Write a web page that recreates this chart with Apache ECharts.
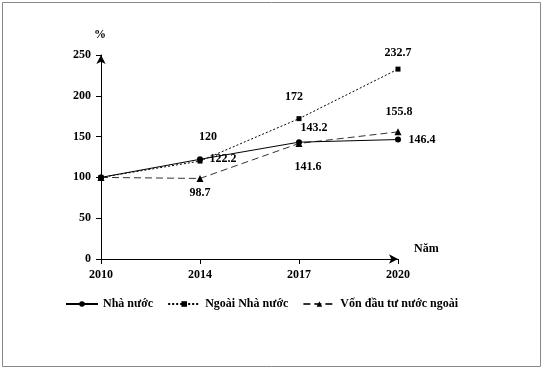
<!DOCTYPE html>
<html><head><meta charset="utf-8">
<script src="https://cdn.jsdelivr.net/npm/echarts@6/dist/echarts.min.js"></script>
<style>html,body{margin:0;padding:0;background:#fff}#c{width:544px;height:370px}</style>
</head><body><div id="c"></div>
<script>
const years = ['2010','2014','2017','2020'];
const nhaNuoc = [100, 122.2, 143.2, 146.4];
const ngoaiNhaNuoc = [100, 120, 172, 232.7];
const fdi = [100, 98.7, 141.6, 155.8];
const yTicks = [0, 50, 100, 150, 200, 250];
const seriesNames = ['Nhà nước', 'Ngoài Nhà nước', 'Vốn đầu tư nước ngoài'];

// label placement (offsets in px), index 0 = no label
const offNha = [null, [23, 0], [15, -14], [24, 0]];
const offNgoai = [null, [8, -24], [-5, -22], [0, -16]];
const offFdi = [null, [0, 14], [9, 23], [1, -20]];

const font = 'Liberation Serif';
function build(vals, offs) {
  return vals.map((v, i) => {
    const o = offs[i];
    if (!o) return { value: v, label: { show: false } };
    return { value: v, label: { show: true, position: 'inside', offset: o, formatter: String(v) } };
  });
}
const lbl = { fontFamily: font, fontWeight: 'bold', fontSize: 12, color: '#000' };

const chart = echarts.init(document.getElementById('c'), null, { renderer: 'canvas' });
chart.setOption({
  animation: false,
  backgroundColor: '#fff',
  graphic: [{ type: 'rect', shape: { x: 2.5, y: 2.5, width: 538, height: 364 }, style: { fill: 'none', stroke: '#888', lineWidth: 1 } },
            { type: 'text', left: 94, top: 29, style: { text: '%', font: 'bold 12px ' + font, fill: '#000' } },
            { type: 'text', left: 414, top: 243, style: { text: 'Năm', font: 'bold 12px ' + font, fill: '#000' } }],
  grid: { left: 101, right: 146, top: 55, bottom: 111 },
  legend: {
    bottom: 55, left: 60, itemWidth: 32, itemHeight: 7, itemGap: 14,
    textStyle: { fontFamily: font, fontWeight: 'bold', fontSize: 12, color: '#000' },
    data: seriesNames
  },
  xAxis: {
    type: 'category', data: years, boundaryGap: false,
    axisLine: { lineStyle: { color: '#000' }, symbol: ['none', 'arrow'], symbolSize: [7, 9], symbolOffset: [0, 0] },
    axisTick: { show: true, alignWithLabel: true, length: 5, lineStyle: { color: '#000' } },
    axisLabel: { fontFamily: font, fontWeight: 'bold', fontSize: 12, color: '#000', margin: 10 }
  },
  yAxis: {
    type: 'value', min: yTicks[0], max: yTicks[yTicks.length - 1], interval: 50,
    splitLine: { show: false },
    axisLine: { show: true, lineStyle: { color: '#000' }, symbol: ['none', 'arrow'], symbolSize: [7, 9] },
    axisTick: { show: true, length: 5, lineStyle: { color: '#000' } },
    axisLabel: { fontFamily: font, fontWeight: 'bold', fontSize: 12, color: '#000', margin: 10 }
  },
  series: [
    { name: seriesNames[0], type: 'line', data: build(nhaNuoc, offNha), symbol: 'circle', symbolSize: 6,
      itemStyle: { color: '#000' }, lineStyle: { color: '#000', width: 1, type: 'solid' }, label: lbl, z: 3 },
    { name: seriesNames[1], type: 'line', data: build(ngoaiNhaNuoc, offNgoai), symbol: 'rect', symbolSize: 5,
      itemStyle: { color: '#000' }, lineStyle: { color: '#000', width: 1, type: [2, 2] }, label: lbl, z: 2 },
    { name: seriesNames[2], type: 'line', data: build(fdi, offFdi), symbol: 'triangle', symbolSize: 7,
      itemStyle: { color: '#000' }, lineStyle: { color: '#333', width: 1, type: [7, 4] }, label: lbl, z: 2 }
  ]
});
</script></body></html>
